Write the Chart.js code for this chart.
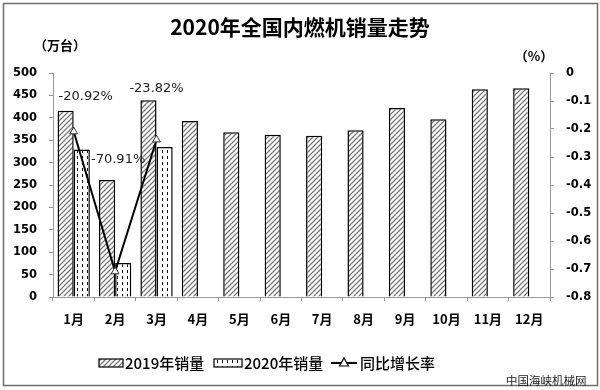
<!DOCTYPE html>
<html>
<head>
<meta charset="utf-8">
<script src="https://cdn.jsdelivr.net/npm/chart.js@4/dist/chart.umd.min.js"></script>
<style>
  html, body { margin: 0; padding: 0; background: #fff; }
  #wrap { width: 600px; height: 390px; position: relative; }
</style>
</head>
<body>
<div id="wrap"><canvas id="salesChart" width="600" height="390"></canvas></div>
<script>
// 数据
const months = ['1月', '2月', '3月', '4月', '5月', '6月', '7月', '8月', '9月', '10月', '11月', '12月'];
const sales2019 = [416, 261, 439, 393, 368, 362, 360, 372, 422, 397, 464, 466];
const sales2020 = [329, 76, 335, null, null, null, null, null, null, null, null, null];
const growthRate = [-0.2092, -0.7091, -0.2382, null, null, null, null, null, null, null, null, null];
const growthLabels = ['-20.92%', '-70.91%', '-23.82%'];
const leftTicks = [0, 50, 100, 150, 200, 250, 300, 350, 400, 450, 500];
const rightTicks = [-0.8, -0.7, -0.6, -0.5, -0.4, -0.3, -0.2, -0.1, 0];

const CJK = '"Noto Sans CJK SC", "DejaVu Sans", sans-serif';
const NUM = '"DejaVu Sans", sans-serif';

// 斜线填充
function hatchPattern() {
  const c = document.createElement('canvas');
  c.width = 5; c.height = 5;
  const g = c.getContext('2d');
  g.fillStyle = '#fff';
  g.fillRect(0, 0, 5, 5);
  g.strokeStyle = '#7a7a7a';
  g.lineWidth = 1.3;
  g.beginPath();
  g.moveTo(-1, 6); g.lineTo(6, -1);
  g.moveTo(-4, 4); g.lineTo(4, -4);
  g.moveTo(1, 9); g.lineTo(9, 1);
  g.stroke();
  return g.createPattern(c, 'repeat');
}

// 点状填充
function dotPattern() {
  const c = document.createElement('canvas');
  c.width = 5; c.height = 6;
  const g = c.getContext('2d');
  g.fillStyle = '#fff';
  g.fillRect(0, 0, 5, 6);
  g.fillStyle = '#111';
  g.fillRect(2, 0, 1, 3);
  return g.createPattern(c, 'repeat');
}

const hatch = hatchPattern();
const dots = dotPattern();

const decorations = {
  id: 'decorations',
  afterDraw(chart) {
    const ctx = chart.ctx;
    ctx.save();
    // 外框
    ctx.strokeStyle = '#6e6e6e';
    ctx.lineWidth = 1.5;
    ctx.strokeRect(3.5, 3.5, 594, 382);

    ctx.fillStyle = '#000';
    ctx.textBaseline = 'middle';
    ctx.textAlign = 'center';
    ctx.font = 'bold 21px ' + CJK;
    ctx.fillText('2020年全国内燃机销量走势', 300, 27);

    ctx.font = 'bold 13px ' + CJK;
    ctx.fillText('（万台）', 60, 45);
    ctx.fillText('（%）', 534, 56);

    // 数据标签
    const meta = chart.getDatasetMeta(2);
    const offs = [[12, -35], [3, -112], [0, -51]];
    ctx.font = '13px "DejaVu Sans", sans-serif';
    ctx.fillStyle = '#222';
    growthLabels.forEach((t, i) => {
      const p = meta.data[i];
      ctx.fillText(t, p.x + offs[i][0], p.y + offs[i][1]);
    });

    // 图例
    const ly = 363;
    ctx.lineWidth = 1.2;
    ctx.strokeStyle = '#000';
    ctx.fillStyle = hatch;
    ctx.fillRect(99, ly - 4, 24, 8);
    ctx.strokeRect(99, ly - 4, 24, 8);
    ctx.fillStyle = dots;
    ctx.fillRect(214, ly - 4, 28, 8);
    ctx.strokeRect(214, ly - 4, 28, 8);
    ctx.lineWidth = 2;
    ctx.beginPath();
    ctx.moveTo(331, ly); ctx.lineTo(357, ly);
    ctx.stroke();
    ctx.lineWidth = 1.2;
    ctx.fillStyle = '#fff';
    ctx.beginPath();
    ctx.moveTo(344, ly - 5); ctx.lineTo(348.5, ly + 3); ctx.lineTo(339.5, ly + 3); ctx.closePath();
    ctx.fill(); ctx.stroke();

    ctx.fillStyle = '#000';
    ctx.textAlign = 'left';
    ctx.font = '500 15px ' + CJK;
    ctx.fillText('2019年销量', 125, ly);
    ctx.fillText('2020年销量', 244, ly);
    ctx.fillText('同比增长率', 360, ly);

    ctx.font = '11.5px ' + CJK;
    ctx.fillStyle = '#222';
    ctx.fillText('中国海峡机械网', 506, 381);
    ctx.restore();
  }
};

new Chart(document.getElementById('salesChart'), {
  type: 'bar',
  data: {
    labels: months,
    datasets: [{
      label: '2019年销量',
      data: sales2019,
      backgroundColor: hatch,
      borderColor: '#000',
      borderWidth: 1.5,
      yAxisID: 'y'
    }, {
      label: '2020年销量',
      data: sales2020,
      backgroundColor: dots,
      borderColor: '#000',
      borderWidth: 1.5,
      yAxisID: 'y'
    }, {
      type: 'line',
      label: '同比增长率',
      data: growthRate,
      yAxisID: 'y1',
      borderColor: '#000',
      borderWidth: 2,
      pointStyle: 'triangle',
      pointRadius: 4.5,
      pointBackgroundColor: '#fff',
      pointBorderColor: '#333',
      pointBorderWidth: 1,
      spanGaps: false,
      order: -1
    }]
  },
  options: {
    responsive: false,
    animation: false,
    layout: { padding: { top: 73, left: 3, right: 5, bottom: 63 } },
    plugins: {
      legend: { display: false },
      title: { display: false },
      tooltip: { enabled: false }
    },
    datasets: { bar: { categoryPercentage: 0.78, barPercentage: 1 } },
    scales: {
      x: {
        grid: { drawOnChartArea: false, color: '#999', tickLength: 4 },
        border: { color: '#999' },
        ticks: { color: '#000', font: { family: CJK, size: 13, weight: 'bold' }, maxRotation: 0, padding: 10 },
        afterFit(s) { s.height = 30; }
      },
      y: {
        position: 'left',
        min: 0, max: 500,
        afterBuildTicks(s) { s.ticks = leftTicks.map(v => ({ value: v })); },
        grid: { drawOnChartArea: false, color: '#999', tickLength: 4 },
        border: { color: '#999' },
        ticks: { color: '#000', font: { family: NUM, size: 11.5, weight: 'bold' }, padding: 12 },
        afterFit(s) { s.width = 50; }
      },
      y1: {
        position: 'right',
        min: -0.8, max: 0,
        afterBuildTicks(s) { s.ticks = rightTicks.map(v => ({ value: v })); },
        grid: { drawOnChartArea: false, color: '#999', tickLength: 4 },
        border: { color: '#999' },
        ticks: {
          color: '#000', font: { family: NUM, size: 11.5, weight: 'bold' }, padding: 12,
          callback: v => (v === 0 ? '0' : v.toFixed(1))
        },
        afterFit(s) { s.width = 45; }
      }
    }
  },
  plugins: [decorations]
});
</script>
</body>
</html>
